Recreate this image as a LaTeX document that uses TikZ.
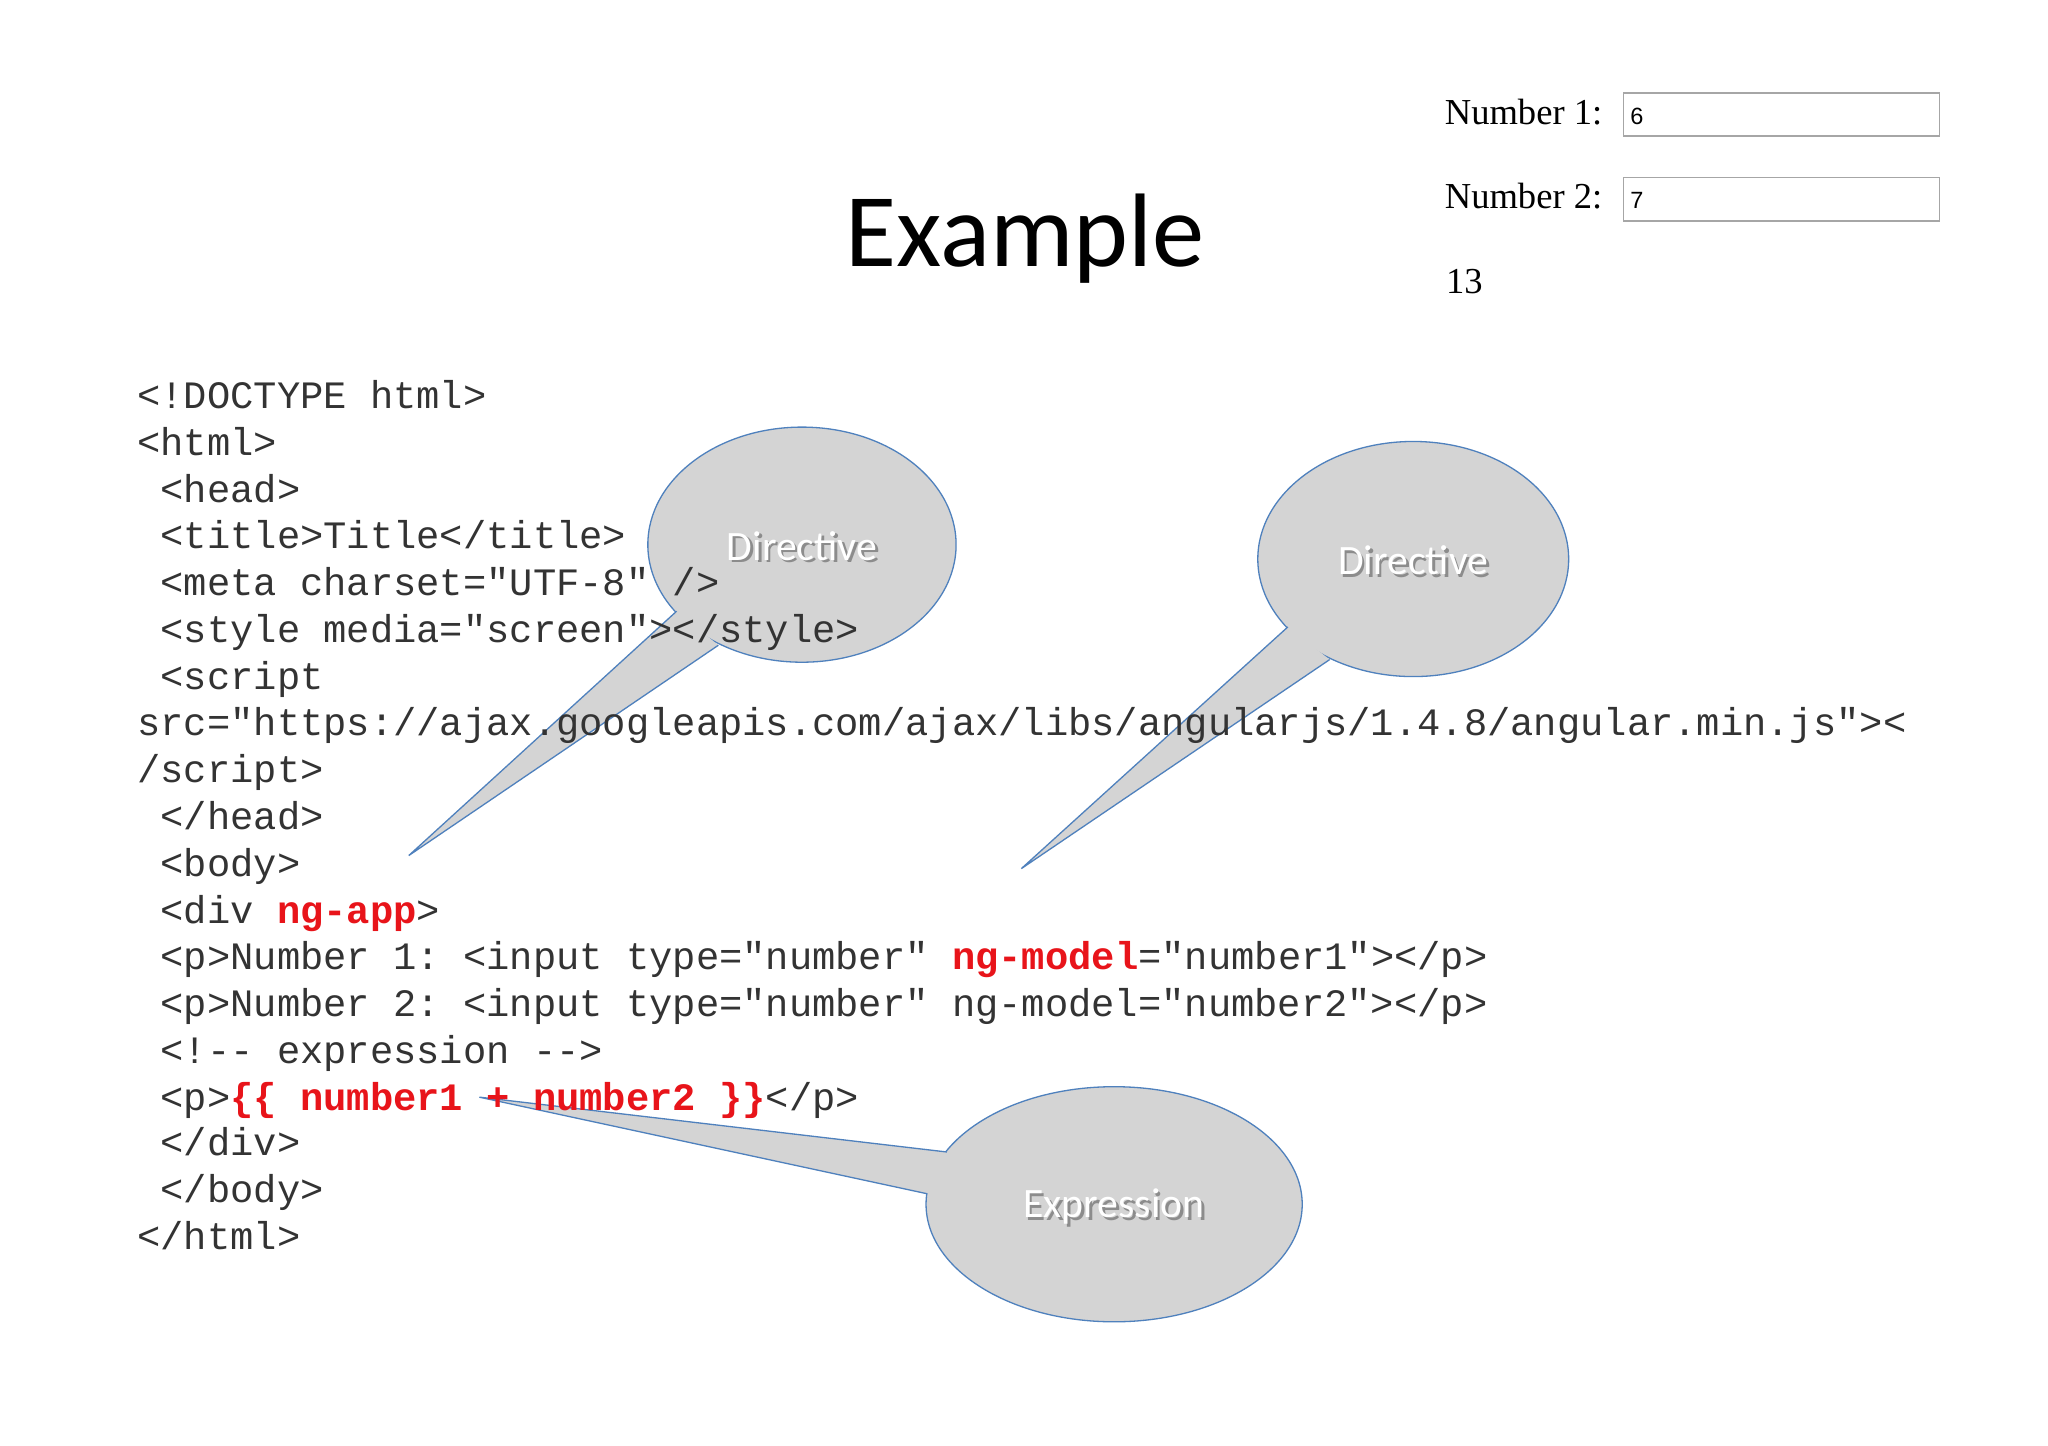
\documentclass[tikz,border=0pt]{standalone}
\usepackage{fontspec}
\setmainfont{Liberation Serif}
\setmonofont{Liberation Mono}
\newfontfamily\calib{Carlito}
\newfontfamily\arialf{Liberation Sans}
\definecolor{cfill}{HTML}{D4D4D4}
\definecolor{cline}{HTML}{4F81BD}
\definecolor{cred}{HTML}{E8141A}
\tikzset{
 codeln/.style={anchor=base west,inner sep=0pt,font=\ttfamily\fontsize{29.7}{36}\selectfont,text=black!80},
 lbl/.style={text=white,font=\calib\fontsize{32}{36}\selectfont},
 lblsh/.style={text=black!45,font=\calib\fontsize{32}{36}\selectfont},
 inbox/.style={draw=black!35,line width=1.2pt},
 ser/.style={anchor=base west,inner sep=0pt,font=\fontsize{28}{32}\selectfont}
}
\newcommand{\rb}[1]{\textcolor{cred}{\textbf{#1}}}
\newcommand{\callout}[9]{% cx cy rx ry tipx tipy b1x b1y b2
 \fill[cfill] (#5,#6) -- (#7,#8) -- (#9) -- cycle;
 \fill[cfill] (#1,#2) ellipse [x radius=#3,y radius=#4];
 \draw[cline,line width=1pt] (#1,#2) ellipse [x radius=#3,y radius=#4];
 \fill[cfill] (#5,#6) -- (#7,#8) -- (#9) -- cycle;
 \draw[cline,line width=1pt] (#7,#8) -- (#5,#6) -- (#9);
}
\begin{document}
\begin{tikzpicture}[x=1pt,y=-1pt]
\useasboundingbox[fill=white] (0,0) rectangle (1568,1107);
% callouts
\coordinate (b1) at (550,494);
\callout{614}{417}{118}{90}{313}{655}{518}{468}{b1}
\coordinate (b2) at (1018,505);
\callout{1082}{428}{119}{90}{782}{665}{986}{480}{b2}
\coordinate (b3) at (710,914);
\callout{853}{922}{144}{90}{367}{840}{725}{882}{b3}
\node[lblsh] at (616,420) {Directive};
\node[lbl] (d1) at (614,418) {Directive};
\node[lblsh] at (1084,431) {Directive};
\node[lbl] (d2) at (1082,429) {Directive};
\node[lblsh] at (855,926) {Expression};
\node[lbl] (e1) at (853,924) {Expression};
% title
\node[font=\calib\fontsize{80}{86}\selectfont] (title) at (785,183) {Example};
% top right
\node[ser] (n1) at (1106,95) {Number 1:};
\draw[inbox] (1243,71) rectangle (1485,104);
\node[anchor=base west,inner sep=0pt,font=\arialf\fontsize{18}{20}\selectfont] (v1) at (1248,95) {6};
\node[ser] (n2) at (1106,160) {Number 2:};
\draw[inbox] (1243,136) rectangle (1485,169);
\node[anchor=base west,inner sep=0pt,font=\arialf\fontsize{18}{20}\selectfont] (v2) at (1248,160) {7};
\node[ser] (res) at (1107,225) {13};
% code
\node[codeln] (l1) at (105,313) {<!DOCTYPE html>};
\node[codeln] (l2) at (105,349) {<html>};
\node[codeln] (l3) at (105,385) {\ <head>};
\node[codeln] (l4) at (105,420) {\ <title>Title</title>};
\node[codeln] (l5) at (105,456) {\ <meta charset="UTF-8" />};
\node[codeln] (l6) at (105,492) {\ <style media="screen"></style>};
\node[codeln] (l7) at (105,528) {\ <script};
\node[codeln] (l8) at (105,563) {src="https://ajax.googleapis.com/ajax/libs/angularjs/1.4.8/angular.min.js"><};
\node[codeln] (l9) at (105,599) {/script>};
\node[codeln] (l10) at (105,635) {\ </head>};
\node[codeln] (l11) at (105,671) {\ <body>};
\node[codeln] (l12) at (105,707) {\ <div \rb{ng-app}>};
\node[codeln] (l13) at (105,742) {\ <p>Number 1: <input type="number" \rb{ng-model}="number1"></p>};
\node[codeln] (l14) at (105,778) {\ <p>Number 2: <input type="number" ng-model="number2"></p>};
\node[codeln] (l15) at (105,814) {\ <!-- expression -->};
\node[codeln] (l16) at (105,850) {\ <p>\rb{\{\{ number1 + number2 \}\}}</p>};
\node[codeln] (l17) at (105,885) {\ </div>};
\node[codeln] (l18) at (105,921) {\ </body>};
\node[codeln] (l19) at (105,957) {</html>};
\end{tikzpicture}
\end{document}
